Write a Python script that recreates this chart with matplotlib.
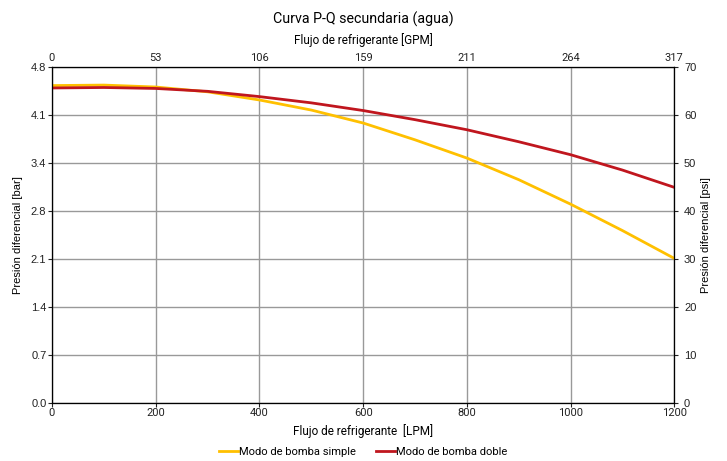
import matplotlib.pyplot as plt

plt.rcParams['font.family'] = ['Roboto', 'DejaVu Sans']

# flow in LPM, pressure in psi
flow_lpm = [0, 100, 200, 300, 400, 500, 600, 700, 800, 900, 1000, 1100, 1200]
single_psi = [66.1, 66.2, 65.8, 64.8, 63.1, 61.0, 58.3, 54.8, 51.0, 46.5, 41.4, 35.9, 30.1]
double_psi = [65.6, 65.7, 65.5, 64.9, 63.8, 62.5, 60.9, 59.0, 56.9, 54.4, 51.7, 48.5, 44.9]

lpm_ticks = [0, 200, 400, 600, 800, 1000, 1200]
gpm_labels = ['0', '53', '106', '159', '211', '264', '317']
psi_ticks = [0, 10, 20, 30, 40, 50, 60, 70]
bar_labels = ['0.0', '0.7', '1.4', '2.1', '2.8', '3.4', '4.1', '4.8']

fig = plt.figure(figsize=(7.27, 4.61), dpi=100)
ax = fig.add_axes([0.0715, 0.126, 0.856, 0.729])

ax.plot(flow_lpm, single_psi, color='#FFC000', lw=2, label='Modo de bomba simple')
ax.plot(flow_lpm, double_psi, color='#C0161E', lw=2, label='Modo de bomba doble')

ax.set_xlim(0, 1200)
ax.set_ylim(0, 70)
ax.set_xticks(lpm_ticks)
ax.set_yticks(psi_ticks)
ax.set_yticklabels(bar_labels, family='Liberation Sans')
ax.grid(True, color='#999999', lw=1)
ax.tick_params(labelsize=8, length=3, pad=1, colors='#222222')
ax.set_xlabel('Flujo de refrigerante  [LPM]', fontsize=8.5, labelpad=4)
ax.set_ylabel('Presión diferencial [bar]', fontsize=8, labelpad=6, family='Liberation Sans')
for s in ax.spines.values():
    s.set_color('#333333')

# right axis in psi
axr = ax.twinx()
axr.set_ylim(0, 70)
axr.set_yticks(psi_ticks)
axr.set_yticklabels([str(v) for v in psi_ticks], family='Liberation Sans')
axr.tick_params(labelsize=8, length=3, pad=4, colors='#222222')
axr.set_ylabel('Presión diferencial [psi]', fontsize=8, labelpad=3, family='Liberation Sans')

# top axis in GPM
axt = ax.twiny()
axt.set_xlim(0, 1200)
axt.set_xticks(lpm_ticks)
axt.set_xticklabels(gpm_labels)
axt.tick_params(labelsize=8, length=0, pad=3, colors='#222222')
axt.set_xlabel('Flujo de refrigerante [GPM]', fontsize=8.5, labelpad=6)

fig.suptitle('Curva P-Q secundaria (agua)', fontsize=10.3, y=0.959, va='center')

ax.legend(loc='center', bbox_to_anchor=(0.5, -0.146), ncol=2, frameon=False,
          fontsize=8, handlelength=1.7, handletextpad=0.1, columnspacing=1.8)

fig.savefig('out.png', dpi=100)
